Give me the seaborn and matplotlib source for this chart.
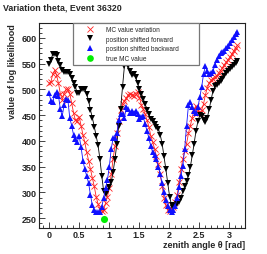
import numpy as np
import pandas as pd
import matplotlib
matplotlib.use("Agg")
import matplotlib.pyplot as plt
from matplotlib.lines import Line2D
from matplotlib.ticker import MultipleLocator, FixedLocator
import seaborn as sns

# ---- data ----
theta = [round(i * np.pi / 100, 4) for i in range(101)]

mc_variation = [
    512, 515, 530, 537, 528, 512, 492, 480, 492, 500,
    501, 492, 474, 455, 440, 438, 447, 430, 412, 397,
    378, 362, 345, 328, 312, 292, 278, 268, 264, 265,
    280, 292, 308, 335, 365, 390, 415, 438, 460, 472,
    478, 483, 490, 492, 490, 488, 492, 495, 484, 470,
    462, 452, 440, 428, 410, 398, 385, 370, 355, 335,
    312, 290, 275, 265, 264, 268, 272, 282, 295, 320,
    345, 365, 380, 395, 415, 430, 445, 462, 468, 460,
    455, 460, 472, 490, 503, 512, 518, 521, 525, 527,
    532, 536, 542, 548, 553, 558, 563, 569, 575, 580,
    586,
]

shifted_forward = [
    550, 558, 569, 569, 566, 556, 548, 538, 533, 534,
    533, 530, 523, 513, 505, 493, 494, 500, 501, 500,
    491, 478, 460, 445, 428, 410, 392, 365, 332, 302,
    297, 303, 310, 320, 340, 365, 395, 430, 462, 505,
    545, 552, 546, 535, 528, 530, 524, 512, 500, 492,
    482, 472, 460, 452, 443, 438, 433, 428, 424, 412,
    395, 370, 345, 318, 292, 275, 270, 273, 277, 282,
    290, 302, 312, 322, 333, 350, 372, 395, 420, 438,
    450, 448, 440, 437, 445, 462, 480, 497, 506, 509,
    512, 516, 521, 527, 531, 535, 540, 544, 548, 552,
    556,
]

shifted_backward = [
    493, 478, 476, 490, 495, 488, 462, 448, 470, 482,
    480, 445, 430, 412, 404, 398, 410, 388, 362, 345,
    332, 318, 295, 275, 265, 262, 262, 262, 272, 290,
    308, 325, 350, 385, 405, 405, 415, 440, 452, 452,
    445, 465, 462, 455, 458, 455, 458, 452, 442, 446,
    448, 432, 420, 405, 390, 378, 372, 365, 350, 335,
    318, 300, 285, 274, 266, 263, 265, 274, 290, 310,
    332, 352, 385, 430, 470, 475, 465, 458, 455, 465,
    485, 505, 530, 545, 535, 530, 532, 535, 548, 558,
    565, 570, 572, 575, 580, 585, 590, 596, 602, 607,
    612,
]

true_theta = [0.91]
true_value = [249]

labels = ["MC value variation", "position shifted forward",
          "position shifted backward", "true MC value"]
x_ticks = [0, 0.5, 1, 1.5, 2, 2.5, 3]
x_ticklabels = ["0", "0.5", "1", "1.5", "2", "2.5", "3"]
y_ticks = [250, 300, 350, 400, 450, 500, 550, 600]

# ---- style ----
sns.set_style("ticks")
plt.rcParams["font.family"] = ["Liberation Sans", "DejaVu Sans"]

W, H = 267, 255
fig = plt.figure(figsize=(W / 100, H / 100), dpi=100)
L, R, T, B = 39, 245, 24, 229
ax = fig.add_axes([L / W, 1 - B / H, (R - L) / W, (B - T) / H])

df = pd.DataFrame({"theta": theta, "mc": mc_variation,
                   "fw": shifted_forward, "bw": shifted_backward})

ms = 4.4
sns.lineplot(data=df, x="theta", y="mc", ax=ax, color="#ff2020", lw=0.6,
             marker="x", markersize=ms, markeredgewidth=0.6,
             markeredgecolor="#ff2020", sort=False, legend=False)
sns.lineplot(data=df, x="theta", y="fw", ax=ax, color="black", lw=0.6,
             marker="v", markersize=ms, markeredgewidth=0,
             sort=False, legend=False)
sns.lineplot(data=df, x="theta", y="bw", ax=ax, color="#1010ff", lw=0.6,
             marker="^", markersize=ms, markeredgewidth=0,
             sort=False, legend=False)
sns.scatterplot(x=true_theta, y=true_value, ax=ax, color="#00ee00", s=26,
                linewidth=0, zorder=5, legend=False)

ax.set_xlim(-0.167, 3.267)
ax.set_ylim(231, 629)

ax.xaxis.set_major_locator(FixedLocator(x_ticks))
ax.set_xticklabels(x_ticklabels)
ax.xaxis.set_minor_locator(MultipleLocator(0.1))
ax.yaxis.set_major_locator(FixedLocator(y_ticks))
ax.yaxis.set_minor_locator(MultipleLocator(10))

for lab in ax.get_xticklabels() + ax.get_yticklabels():
    lab.set_fontweight("bold")
ax.tick_params(axis="both", which="major", direction="in", length=4,
               width=0.6, labelsize=6.5, pad=1.8, top=False, right=False)
ax.tick_params(axis="both", which="minor", direction="in", length=2,
               width=0.6, top=False, right=False)
for s in ax.spines.values():
    s.set_linewidth(0.8)
    s.set_color("#222222")
    s.set_visible(True)

ax.set_xlabel("")
ax.set_ylabel("")
fig.text(R / W, 1 - 246 / H, "zenith angle θ [rad]", ha="right", va="center",
         fontsize=6.5, fontweight="bold")
fig.text(13 / W, 1 - T / H, "value of log likelihood", ha="center", va="top",
         rotation=90, fontsize=6.5, fontweight="bold")
fig.text(3.3 / W, 1 - 7.5 / H, "Variation theta, Event 36320", ha="left",
         va="center", fontsize=6.4, fontweight="bold")

handles = [
    Line2D([], [], ls="none", marker="x", color="#ff2020", markersize=ms,
           markeredgewidth=0.6),
    Line2D([], [], ls="none", marker="v", color="black", markersize=ms,
           markeredgewidth=0),
    Line2D([], [], ls="none", marker="^", color="#1010ff", markersize=ms,
           markeredgewidth=0),
    Line2D([], [], ls="none", marker="o", color="#00ee00", markersize=4.8,
           markeredgewidth=0),
]
lx0 = (73 - L) / (R - L)
lx1 = (199 - L) / (R - L)
leg = ax.legend(handles, labels, loc="upper left",
                bbox_to_anchor=(lx0, 0, lx1 - lx0, 1.0), mode="expand",
                borderaxespad=0, fontsize=4.7, frameon=True, fancybox=False,
                borderpad=0.45, handlelength=4.4, handletextpad=0.2,
                labelspacing=0.42)
leg.get_frame().set_edgecolor("#777777")
leg.get_frame().set_linewidth(0.9)
leg.get_frame().set_alpha(1)

fig.savefig("out.png", dpi=100, facecolor="white")
